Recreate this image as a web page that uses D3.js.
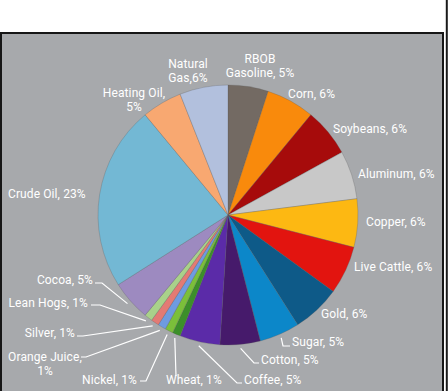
<!DOCTYPE html>
<html>
<head>
<meta charset="utf-8">
<script src="https://cdn.jsdelivr.net/npm/d3@7"></script>
<style>
  body { margin: 0; background: #fff; }
  .label { font-family: Roboto, sans-serif; font-size: 12px; letter-spacing: 0.1px; fill: #fff; }
  .leader { stroke: #fff; stroke-width: 1.2; fill: none; }
</style>
</head>
<body>
<div class="chart"></div>
<script>
// commodity weights, clockwise from 12 o'clock
var commodities = ["RBOB Gasoline", "Corn", "Soybeans", "Aluminum", "Copper", "Live Cattle",
  "Gold", "Sugar", "Cotton", "Coffee", "Wheat", "Nickel", "Orange Juice", "Silver",
  "Lean Hogs", "Cocoa", "Crude Oil", "Heating Oil", "Natural Gas"];
var weights = [5, 6, 6, 6, 6, 6, 6, 5, 5, 5, 1, 1, 1, 1, 1, 5, 23, 5, 6];
var labelText = [
  ["RBOB", "Gasoline, 5%"], ["Corn, 6%"], ["Soybeans, 6%"], ["Aluminum, 6%"], ["Copper, 6%"],
  ["Live Cattle, 6%"], ["Gold, 6%"], ["Sugar, 5%"], ["Cotton, 5%"], ["Coffee, 5%"],
  ["Wheat, 1%"], ["Nickel, 1%"], ["Orange Juice,", "1%"], ["Silver, 1%"], ["Lean Hogs, 1%"],
  ["Cocoa, 5%"], ["Crude Oil, 23%"], ["Heating Oil,", "5%"], ["Natural", "Gas,6%"]
];

var colors = ["#736a63", "#f98a0c", "#a60b0b", "#c8c8c8", "#fdb812", "#e2140f",
  "#0e5a88", "#0c87c9", "#461a6b", "#5b2ba8", "#3c8f29", "#7bbf3a", "#6e9be0",
  "#e37a74", "#a9d18a", "#9d8ac0", "#73b8d4", "#f8a871", "#b2c0dd"];

var width = 448
var height = 391
var cx = 228
var cy = 215
var radius = 130

// hand placed label layout: x, y (first baseline), anchor, leader elbow points
var labelLayout = [
  {x: 260, y: 63, anchor: "middle"},
  {x: 288, y: 98, anchor: "start"},
  {x: 333, y: 133, anchor: "start"},
  {x: 358, y: 178, anchor: "start"},
  {x: 366, y: 226, anchor: "start"},
  {x: 354, y: 271, anchor: "start"},
  {x: 321, y: 318, anchor: "start"},
  {x: 292, y: 346, anchor: "start", elbow: [[283, 346], [290, 346]]},
  {x: 261, y: 364, anchor: "start", elbow: [[254, 363], [259, 363]]},
  {x: 244, y: 384, anchor: "start", elbow: [[237, 383], [242, 383]]},
  {x: 166, y: 384, anchor: "start", elbow: [[176, 376]]},
  {x: 137, y: 384, anchor: "end", elbow: [[146, 381], [140, 381]]},
  {x: 45, y: 361, anchor: "middle", elbow: [[86, 357], [81, 357]]},
  {x: 75, y: 337, anchor: "end", elbow: [[83, 336], [77, 336]]},
  {x: 88, y: 307, anchor: "end", elbow: [[100, 305], [91, 305]]},
  {x: 93, y: 284, anchor: "end", elbow: [[102, 283], [95, 283]]},
  {x: 8, y: 198, anchor: "start"},
  {x: 134, y: 97, anchor: "middle"},
  {x: 188, y: 68, anchor: "middle"}
];

var svg = d3.select(".chart").append("svg")
            .attr("width", width)
            .attr("height", height)
            .style("display", "block");

// outer page line on the right
svg.append("line")
   .attr("x1", 446.8).attr("y1", 0)
   .attr("x2", 446.8).attr("y2", height)
   .attr("stroke", "#1a1a1a")
   .attr("stroke-width", 2);

// grey panel with dark frame
svg.append("rect")
   .attr("x", 1)
   .attr("y", 33)
   .attr("width", 442)
   .attr("height", height)
   .attr("fill", "#a7a9ac")
   .attr("stroke", "#161616")
   .attr("stroke-width", 2);

var pie = d3.pie().sort(null).value(function(d) { return d; });
var arcs = pie(weights);

var arc = d3.arc().innerRadius(0).outerRadius(radius);

var g = svg.append("g").attr("transform", "translate(" + cx + "," + cy + ")");

g.selectAll("path")
 .data(arcs)
 .enter()
 .append("path")
 .attr("d", arc)
 .attr("fill", function(d, i) { return colors[i]; })
 .attr("stroke", "rgba(90,90,90,0.45)")
 .attr("stroke-width", 0.6);

// leader lines from just outside the slice edge
var edgePoint = function(d) {
  var a = (d.startAngle + d.endAngle) / 2;
  var r = radius + 4;
  return [cx + Math.sin(a) * r, cy - Math.cos(a) * r];
};

arcs.forEach(function(d, i) {
  var lay = labelLayout[i];
  if (!lay.elbow) return;
  var pts = [edgePoint(d)].concat(lay.elbow);
  svg.append("path")
     .attr("d", d3.line()(pts))
     .attr("class", "leader");
});

commodities.forEach(function(name, i) {
  var lay = labelLayout[i];
  var t = svg.append("text")
             .attr("class", "label")
             .attr("x", lay.x)
             .attr("y", lay.y)
             .attr("text-anchor", lay.anchor);
  labelText[i].forEach(function(line, j) {
    t.append("tspan")
     .attr("x", lay.x)
     .attr("dy", j == 0 ? 0 : 13.5)
     .text(line);
  });
});
</script>
</body>
</html>
